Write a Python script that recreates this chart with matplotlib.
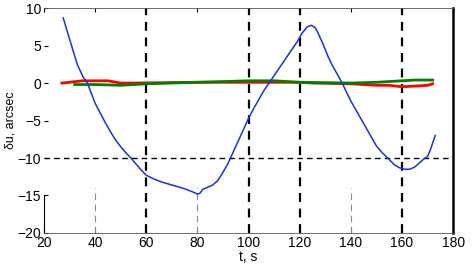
import numpy as np
import matplotlib
matplotlib.use('Agg')
import matplotlib.pyplot as plt

plt.rcParams['font.family'] = ['Liberation Sans', 'DejaVu Sans']

# blue curve
t_blue = [27.5, 29, 31.3, 33, 35.3, 37, 40, 42, 44, 46, 48, 50, 52, 54, 56, 58, 60, 63,
          66, 70, 75, 78, 80, 81, 82, 84, 86, 88, 90, 92, 94, 96, 98, 100, 102, 104,
          106, 108, 110, 113, 116, 119, 121, 123, 124.5, 126, 127, 129, 131, 133, 135,
          136.6, 138, 140, 142, 145, 148, 150, 152, 155, 157, 159, 161, 163, 165, 167,
          169, 170, 171, 172, 173]
y_blue = [8.7, 7.0, 4.4, 2.5, 0.8, 0.0, -2.7, -4.0, -5.3, -6.5, -7.6, -8.5, -9.3, -10.0,
          -10.8, -11.6, -12.3, -12.8, -13.2, -13.6, -14.1, -14.5, -14.8, -14.7, -14.2,
          -13.9, -13.6, -13.0, -11.9, -10.7, -9.2, -7.7, -6.2, -4.7, -3.4, -2.2, -1.0,
          0.0, 1.0, 2.5, 4.0, 5.5, 6.7, 7.5, 7.7, 7.4, 6.8, 5.3, 3.6, 2.2, 1.0, 0.0,
          -1.0, -2.4, -3.6, -5.4, -7.2, -8.4, -9.2, -10.2, -10.9, -11.3, -11.5, -11.5,
          -11.2, -10.6, -10.0, -9.8, -9.0, -8.0, -7.0]

# red and green (near zero)
t_red = [27, 30, 35, 45, 50, 55, 80, 100, 120, 125, 140, 150, 155, 160, 165, 170, 172]
y_red = [0.0, 0.1, 0.3, 0.3, 0.0, 0.0, 0.1, 0.1, 0.1, 0.0, -0.1, -0.3, -0.3, -0.5, -0.4, -0.3, -0.1]
t_green = [32, 40, 50, 55, 60, 70, 80, 90, 100, 110, 115, 120, 140, 150, 155, 160, 165, 172]
y_green = [-0.2, -0.2, -0.3, -0.2, -0.1, 0.0, 0.1, 0.2, 0.3, 0.3, 0.2, 0.1, 0.0, 0.1, 0.2, 0.3, 0.4, 0.4]

event_t = [60, 100, 120, 160]
grid_t = [40, 80, 140]
level_y = [-10]

xticks = [20, 40, 60, 80, 100, 120, 140, 160, 180]
yticks = [-20, -15, -10, -5, 0, 5, 10]

fig = plt.figure(figsize=(4.73, 2.79), dpi=100)
ax = fig.add_axes([0.093, 0.165, 0.865, 0.806])

ax.vlines(grid_t, -20, -14, colors='#888888', linestyles=(0, (6, 4)), linewidth=0.8)
ax.vlines(event_t, -20, 10, colors='black', linestyles=(0, (4, 3)), linewidth=1.6)
ax.hlines(level_y, 20, 180, colors='black', linestyles=(0, (4, 3)), linewidth=1.0)

ax.plot(t_red, y_red, color='red', linewidth=2.0)
ax.plot(t_green, y_green, color='green', linewidth=2.0)
ax.plot(t_blue, y_blue, color='#1f2fe0', linewidth=1.1)

ax.set_xlim(20, 180)
ax.set_ylim(-20, 10)
ax.set_xticks(xticks)
ax.set_yticks(yticks)
ax.tick_params(direction='in', length=3, labelsize=10, pad=2, top=True, right=False)
ax.set_xlabel('t, s', fontsize=10, labelpad=0)
ax.set_ylabel('δu, arcsec', fontsize=9, labelpad=1)

ax.spines['left'].set_bounds(-20, -15)
ax.spines['right'].set_linewidth(1.8)
for s in ['top', 'bottom']:
    ax.spines[s].set_linewidth(0.6)
    ax.spines[s].set_color('#555555')

fig.savefig('out.png', dpi=100)
